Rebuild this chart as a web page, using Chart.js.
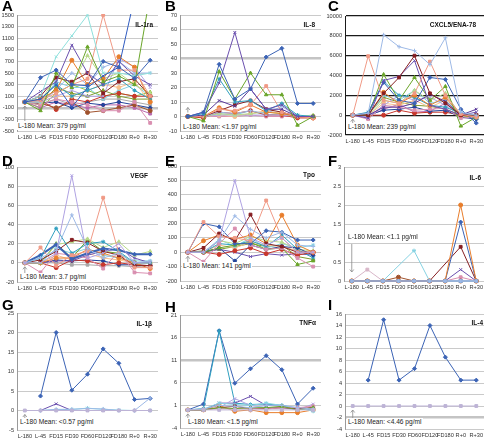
<!DOCTYPE html>
<html><head><meta charset="utf-8">
<script src="https://cdn.jsdelivr.net/npm/chart.js@4.4.1/dist/chart.umd.min.js"></script>
<style>
html,body{margin:0;padding:0;background:#fff;}
#wrap{position:relative;width:489px;height:440px;overflow:hidden;font-family:"Liberation Sans",Arial,sans-serif;}
canvas{position:absolute;}
.lt{position:absolute;font-weight:bold;font-size:15px;line-height:15px;color:#000;}
.ttl{position:absolute;font-weight:bold;font-size:6.5px;line-height:8px;color:#111;white-space:nowrap;}
.mean{position:absolute;font-size:6.6px;line-height:8px;background:#fff;color:#222;white-space:nowrap;padding:0 1px;}
</style></head><body><div id="wrap"></div>
<script>
// ---------- categories ----------
const categories = ["L-180","L-45","FD15","FD30","FD60","FD120","FD180","R+0","R+30"];

// ---------- A: IL-1ra ----------
const il1raSeries = [
  [0, 420, 550, 300, 280, 700, 600, 410, 720],
  [0, 50, 300, -90, 250, 450, 600, 1800, null],
  [0, -150, 500, 250, 950, 350, 450, 300, 1850],
  [0, 100, 780, 1140, 1500, 500, 500, 450, 500],
  [0, 30, 150, 300, 400, 1500, 550, 550, 100],
  [0, 50, 200, 720, 300, 400, 780, 600, 0],
  [0, 180, 350, 980, 500, 300, 700, 450, 300],
  [0, 100, 420, 350, 500, 150, 350, 400, 100],
  [0, 50, 300, 100, 200, 300, 400, 200, 50],
  [0, 0, 200, 500, 300, 600, 700, 500, 500],
  [0, 0, 450, 300, 800, 400, 500, 300, 150],
  [0, 0, 100, 200, 100, 100, 750, 600, 250],
  [0, 0, 100, 100, 200, 300, 250, 350, 0],
  [0, -50, 50, 0, -50, -150, -150, 0, -360],
  [0, -20, -100, 0, -180, -150, -100, -50, -150],
  [0, -20, 0, -100, -20, -50, 0, -50, -100],
  [0, 30, -130, 50, 0, 100, 150, 100, 100],
  [0, -50, 250, 150, 100, 200, 100, 50, 50],
  [0, 0, 350, 250, 250, 50, 200, 300, 100],
  [0, -100, 0, -50, -100, -50, -50, -100, -200],
  [0, -30, 50, -50, 0, 50, 50, 0, -50],
  [0, -100, 150, 300, 200, 100, 150, 100, 170]
];
const il1raColors = ["blue","blue2","green","cyan","salmon","orange","purple","maroon","teal","lightblue","lightgreen","lavender","peach","pink","brown","darkblue","red","olive","lightcyan","magenta","gray","green2"];

// ---------- B: IL-8 ----------
const il8Series = [
  [0, 3, 36, 12, 19, 41, 47, 9, 9],
  [0, 3, 23, 58, 19, 5, 8, 0, 0],
  [0, -3, 31, 12, 30, 15, 15, -6, 0],
  [0, 2, 26, 10, 11, 4, 9, 1, 0],
  [0, 1, 11, 7, 19, 5, 5, 0, 0],
  [0, 0, 5, 4, 8, 21, 3, 0, -1],
  [0, 0, 4, 8, 11, 5, 3, 0, 0],
  [0, 0, 6, 3, 8, 3, 2, 0, -1],
  [0, 0, 3, 2, 4, 2, 7, 0, 0],
  [0, 0, 2, 1, 2, 3, 2, 0, 1],
  [0, 0, 1, 1, 1, 1, 1, 0, 0],
  [0, -1, 3, 2, 4, 1, 1, -1, -1],
  [0, 0, 2, 1, 4, 1, 2, 0, 0],
  [0, 0, 1, 0, 2, 4, 2, 0, 0],
  [0, 0, 0, 0, 1, 0, 0, 0, -1]
];
const il8Colors = ["blue","purple","green","teal","darkpurple","salmon","maroon","orange","lightblue","lightgreen","lavender","red","lightcyan","peach","pink"];

// ---------- C: CXCL5/ENA-78 ----------
const cxcl5Series = [
  [0, 200, 8100, 6900, 6500, 5100, 7800, 300, 0],
  [0, 5950, 1500, 1200, 2200, 5400, 2000, 100, -200],
  [0, 0, 2200, 3800, 6000, 2200, 1200, 0, 0],
  [0, -300, 3500, 3900, 5500, 1000, 600, 0, 300],
  [0, 200, 3300, 1500, 1200, 3800, 3600, 600, -800],
  [0, 0, 4100, 1500, 3800, 1500, 2900, -1100, -200],
  [0, 0, 800, 800, 1200, 2100, 1400, 0, 600],
  [0, 0, 2300, 1200, 2000, 1000, 1800, 0, -200],
  [0, 300, 3400, 2000, 1800, 1000, 800, 200, -300],
  [0, 0, 1500, 1200, 2500, 1500, 2200, 0, 0],
  [0, -200, 1000, 2000, 1500, 1800, 1000, 0, 0],
  [0, 0, 2000, 1500, 2500, 1200, 1500, 100, 0],
  [0, -400, 1000, 800, 500, 600, 700, -300, -200],
  [0, 0, 1200, 1000, 1500, 800, 1500, 0, 0],
  [0, 0, 500, 600, 800, 400, 500, -200, -400],
  [0, 0, 0, 500, 200, 300, 300, 0, 0],
  [0, -100, 600, 1100, 300, 400, 1200, 0, 0],
  [0, 100, 1800, 1300, 1000, 900, 600, 0, -300]
];
const cxcl5Colors = ["lightblue","salmon","maroon","purple","blue","green","darkpurple","orange","teal","lightgreen","lavender","lightcyan","pink","peach","darkblue","red","magenta","olive"];

// ---------- D: VEGF ----------
const vegfSeries = [
  [0, 0, 10, 91, 5, 10, 20, 0, 0],
  [0, 5, 13, 50, 15, 5, 10, 0, 2],
  [0, 16, -3, 8, 12, 68, 10, -5, -5],
  [0, 5, 36, 10, 20, 22, 12, 0, 0],
  [0, 8, 19, 4, 10, 15, 13, 9, 9],
  [0, 3, 12, 24, 21, 12, 8, -3, -3],
  [0, 0, 19, 22, 25, 16, 22, 8, 12],
  [0, -10, 10, 8, 5, -6, 12, -10, -11],
  [0, 0, 20, 5, 24, 12, 10, 0, 0],
  [0, 0, 5, 5, 14, 10, 5, 0, -6],
  [0, 0, 2, 2, 8, 12, 15, 5, 0],
  [0, 0, -5, 3, 2, -2, 0, -2, -3],
  [0, 0, 3, 2, 3, 2, -2, -2, -3],
  [0, 0, 15, 10, 15, 8, 5, 2, 2],
  [0, 0, 8, 3, 10, 5, 3, 0, 0],
  [0, 0, 0, -2, -2, -3, -3, -4, -5]
];
const vegfColors = ["lavender","lightblue","salmon","teal","blue","maroon","lightgreen","pink","green","orange","purple","red","darkblue","lightcyan","peach","gray"];

// ---------- E: Tpo ----------
const tpoSeries = [
  [0, 0, 80, 500, 100, 50, 100, 0, 0],
  [0, 0, 80, 253, 160, 100, 140, 50, 40],
  [0, 210, 110, 100, 80, 360, 100, 0, 0],
  [0, 30, 130, 80, 262, 60, 40, 0, 0],
  [0, 200, 177, 60, 60, 150, 140, 85, 85],
  [0, 80, 120, 90, 120, 60, 258, 50, 0],
  [0, -66, 60, 165, 50, 20, 30, -40, -100],
  [0, 0, 30, 50, 70, 20, 30, -85, -60],
  [0, 0, -15, 10, 30, -10, 20, -20, 0],
  [0, 0, 30, -60, 50, 20, 40, 30, -20],
  [0, 0, 80, 60, 110, 80, 70, 20, 10],
  [0, 0, 60, 50, 80, 40, 120, 20, -40],
  [0, 0, 20, 0, -30, -10, -20, -10, -20],
  [0, 0, 90, 40, 100, 30, 60, 30, 50],
  [0, 0, 50, 30, 70, 50, 40, 10, 0],
  [0, 10, 20, 40, 60, 40, 50, -30, -50]
];
const tpoColors = ["lavender","lightblue","salmon","maroon","blue","orange","pink","green","red","darkblue","lightgreen","teal","purple","lightcyan","peach","olive"];

// ---------- F: IL-6 ----------
const il6Series = [
  [0, 0, 0, 0, 0, 0, 0, 0, 0],
  [0, 0, 0, 0, 0, 0, 0, 0, 0],
  [0, 0, 0, 0, 0, 0, 0, 2.0, 0],
  [0, 0, 0, 0, 0, 0, 0, 1.55, 0],
  [0, 0, 0, 0, 0, 0, null, 0.9, 0],
  [0, 0, 0, null, 0.8, 0, 0, 0, 0],
  [0, 0.3, 0, 0, 0, 0, 0, 0, 0],
  [0, 0, 0, 0.1, 0, 0, 0, 0, 0],
  [0, 0, 0, 0, 0, 0, 0, 0.3, 0],
  [0, 0, 0, 0, 0, 0, 0, 0.1, 0],
  [0, 0, 0, 0, 0, 0, 0, 0, 0]
];
const il6Colors = ["lightblue","steel","orange","blue","maroon","lightcyan","mauve","brown","purple","pink","mauve"];

// ---------- G: IL-1β ----------
const il1bSeries = [
  [0, 0, 0, 0, 0, 0, 0, 0, 0],
  [null, 0, 0.3, 0.3, 0.5, 0.4, 0, 0, 3.2],
  [null, 0, 0.2, 0.3, 0.6, 0.3, 0.1, 0, 0],
  [null, 0, 1.7, 0, 0, 0, 0, 0, 0],
  [null, 3.7, 20, 5.2, 9.3, 15.8, 12.1, 2.8, 3.1]
];
const il1bColors = ["graylav","lightblue","lightcyan","purple","blue"];

// ---------- H: TNFα ----------
const tnfSeries = [
  [0, 0, 0, 0, 0, 0, 0, 0, 0],
  [0, 0.2, 1, 0.8, 0.5, 1, 1, 0.5, 0.2],
  [0, 0, 0.5, 0.3, 0.5, 0.5, 0.8, 0, 0.5],
  [0, 0, 0.3, 0.2, 0.3, 0.2, 0.5, 0.5, 0.8],
  [0, 0, 0.5, 0.8, 0.3, 0.3, 0.5, 0.3, 0.5],
  [0, 0.2, 1.5, 1.2, 1, 1.5, 1, 0.5, -0.3],
  [0, 0, 1, -0.3, 0, -0.6, -0.6, -0.6, 0],
  [0, 0, 0.5, 2.5, 1, 0.5, 0.5, 0, 1.3],
  [0, 0, 1.5, 1.5, 3, 1, 1, 0, 0.5],
  [0, 0.3, 17.5, 1.5, 1.2, 1.3, 1, 0.3, 0],
  [0, 1.3, 17.5, 5.9, 9.1, 12, 8.9, 1.3, 4.8]
];
const tnfColors = ["graylav","lightblue","green","pink","maroon","lightcyan","orange","lavender","purple","teal","blue"];

// ---------- I: IL-4 ----------
const il4Series = [
  [0, 0, 0, 0, 0, 0, 0, 0, 0],
  [null, 4.5, 15, 4.5, 6.5, 14, 8.5, 4.5, 4.5]
];
const il4Colors = ["graylav","blue"];

// ---------- styles ----------
const palette = {
  blue:"#3B63B5", blue2:"#2F5BC0", green:"#6AA52A", cyan:"#8EE0DC", salmon:"#F09A86", orange:"#E87E2C",
  purple:"#6A4FAE", maroon:"#861E22", teal:"#2E9FBF", lightblue:"#9DB9E6", lightgreen:"#B9D98A",
  lavender:"#AFA2E2", peach:"#F7C08C", pink:"#D98FB0", brown:"#A0522D", darkblue:"#24449A",
  red:"#C8372C", olive:"#7E9A2E", lightcyan:"#86D2E2", magenta:"#B96BB0", gray:"#A8A8A8", green2:"#8CC63F",
  darkpurple:"#5A3A9A", steel:"#7FA3D8", mauve:"#D8B6C8", graylav:"#BDB3D6"
};
const markers = {
  blue:"rectRot", blue2:"crossRot", green:"triangle", cyan:"crossRot", salmon:"rect", orange:"circle",
  purple:"crossRot", maroon:"rect", teal:"star", lightblue:"cross", lightgreen:"triangle", lavender:"crossRot",
  lightcyan:"star", peach:"circle", pink:"rect", brown:"circle", darkblue:"rectRot", red:"circle",
  olive:"triangle", magenta:"rect", gray:"rect", green2:"triangle", darkpurple:"crossRot", steel:"rect",
  mauve:"rect", graylav:"rect"
};
const FONT = "'Liberation Sans', Arial, sans-serif";

const panels = [
  {id:"A", title:"IL-1ra", mean:"L-180 Mean: 379 pg/ml", series:il1raSeries, colors:il1raColors,
   x:0, y:0, w:163, h:145, plot:{l:17,t:15,r:160,b:131}, min:-500, max:1500, step:200, heavy:-100,
   titleR:153, titleY:25, meanX:17, meanY:126, arrowFrom:121, dir:"up", letterY:-2},
  {id:"B", title:"IL-8", mean:"L-180 Mean: <1.97 pg/ml", series:il8Series, colors:il8Colors,
   x:163, y:0, w:163, h:145, plot:{l:17,t:15,r:160,b:131}, min:-10, max:70, step:10, heavy:40,
   titleR:152, titleY:25, meanX:19, meanY:127, arrowFrom:111, dir:"upAbove", letterY:-2},
  {id:"C", title:"CXCL5/ENA-78", mean:"L-180 Mean: 239 pg/ml", series:cxcl5Series, colors:cxcl5Colors,
   x:326, y:0, w:163, h:145, plot:{l:19,t:16,r:160,b:135}, min:-2000, max:10000, step:2000, dark:true,
   titleR:150, titleY:25, meanX:21, meanY:127, arrowFrom:123, dir:"up", letterY:-2},
  {id:"D", title:"VEGF", mean:"L-180 Mean: 3.7 pg/ml", series:vegfSeries, colors:vegfColors, thick:"blue",
   x:0, y:145, w:163, h:150, plot:{l:17,t:22,r:160,b:137}, min:-20, max:100, step:20,
   titleR:148, titleY:31, meanX:19, meanY:132, arrowFrom:128, dir:"up", letterY:8},
  {id:"E", title:"Tpo", mean:"L-180 Mean: 141 pg/ml", series:tpoSeries, colors:tpoColors,
   x:163, y:145, w:163, h:150, plot:{l:17,t:21,r:160,b:136}, min:-200, max:600, step:100,
   titleR:152, titleY:30, meanX:19, meanY:121, arrowFrom:117, dir:"up", letterY:8},
  {id:"F", title:"IL-6", mean:"L-180 Mean: <1.1 pg/ml", series:il6Series, colors:il6Colors, clipOff:true,
   x:326, y:145, w:163, h:150, plot:{l:18,t:22,r:160,b:136}, min:0, max:3, step:0.5,
   titleR:155, titleY:33, meanX:21, meanY:92, arrowFrom:99, dir:"down", letterY:8},
  {id:"G", title:"IL-1β", mean:"L-180 Mean: <0.57 pg/ml", series:il1bSeries, colors:il1bColors,
   x:0, y:295, w:163, h:145, plot:{l:17,t:18,r:160,b:135}, min:-5, max:25, step:5,
   titleR:152, titleY:29, meanX:19, meanY:127, arrowFrom:123, dir:"up", letterY:2},
  {id:"H", title:"TNFα", mean:"L-180 Mean: <1.5 pg/ml", series:tnfSeries, colors:tnfColors,
   x:163, y:295, w:163, h:145, plot:{l:17,t:20,r:160,b:133}, min:-4, max:21, step:5, heavy:11,
   titleR:153, titleY:28, meanX:24, meanY:127, arrowFrom:123, dir:"up", letterY:4},
  {id:"I", title:"IL-4", mean:"L-180 Mean: <4.46 pg/ml", series:il4Series, colors:il4Colors,
   x:326, y:295, w:163, h:145, plot:{l:19,t:19,r:160,b:134}, min:-4, max:16, step:2, heavy:-2,
   titleR:157, titleY:28, meanX:21, meanY:127, arrowFrom:123, dir:"up", letterY:2}
];

const arrowPlugin = {
  id: "meanArrow",
  afterDatasetsDraw(chart, args, opts) {
    const xs = chart.scales.x, ys = chart.scales.y, c = chart.ctx;
    const x = xs.getPixelForValue(0);
    const yPt = ys.getPixelForValue(0);
    let y0 = opts.from, y1;
    if (opts.dir === "down") y1 = yPt - 9;
    else if (opts.dir === "upAbove") { y0 = yPt - 4; y1 = yPt - 9; }
    else y1 = yPt + 4;
    const up = y1 < y0;
    c.save();
    c.strokeStyle = "#8a8a8a"; c.lineWidth = 0.8;
    c.beginPath(); c.moveTo(x, y0); c.lineTo(x, y1); c.stroke();
    const s = up ? 1 : -1;
    c.beginPath(); c.moveTo(x - 2, y1 + 2.5 * s); c.lineTo(x, y1); c.lineTo(x + 2, y1 + 2.5 * s); c.stroke();
    c.restore();
  }
};

const wrap = document.getElementById("wrap");
panels.forEach(p => {
  const cv = document.createElement("canvas");
  cv.width = p.w; cv.height = p.h;
  cv.style.left = p.x + "px"; cv.style.top = p.y + "px";
  wrap.appendChild(cv);

  const datasets = p.series.map((vals, i) => {
    const key = p.colors[i], col = palette[key];
    return {
      data: vals, borderColor: col, backgroundColor: col,
      pointBackgroundColor: col, pointBorderColor: col,
      borderWidth: (p.thick === key) ? 2 : 1, pointRadius: 2, pointBorderWidth: 1,
      pointStyle: markers[key], spanGaps: true, tension: 0,
      clip: p.clipOff ? false : 1
    };
  });

  const gridCol = p.dark ? "#1a1a1a" : "#bcbcbc";
  new Chart(cv, {
    type: "line",
    data: { labels: categories, datasets },
    options: {
      responsive: false, animation: false, devicePixelRatio: 1, events: [],
      layout: { padding: { top: p.plot.t, right: p.w - p.plot.r, bottom: 0, left: 0 } },
      plugins: { legend: { display: false }, tooltip: { enabled: false },
        meanArrow: { from: p.arrowFrom, dir: p.dir } },
      scales: {
        x: {
          offset: true,
          grid: { display: false, drawTicks: false },
          border: { display: false },
          ticks: { font: { size: 5.6, family: FONT }, color: "#333", maxRotation: 0, minRotation: 0, autoSkip: false, padding: 3 },
          afterFit: s => { s.height = p.h - p.plot.b; }
        },
        y: {
          min: p.min, max: p.max,
          ticks: { stepSize: p.step, font: { size: 5.6, family: FONT }, color: "#333", padding: 3,
            callback: v => String(Math.round(v * 100) / 100) },
          grid: {
            drawTicks: false,
            color: ctx => (p.heavy !== undefined && ctx.tick && ctx.tick.value === p.heavy) ? "#c4c4c4" : gridCol,
            lineWidth: ctx => (p.heavy !== undefined && ctx.tick && ctx.tick.value === p.heavy) ? 2.5 : (p.dark ? 1.2 : 0.8)
          },
          border: { display: true, color: p.dark ? "#1a1a1a" : "#9a9a9a", width: 1 },
          afterFit: s => { s.width = p.plot.l; }
        }
      }
    },
    plugins: [arrowPlugin]
  });

  const lt = document.createElement("div");
  lt.className = "lt"; lt.textContent = p.id;
  lt.style.left = (p.x + 2) + "px"; lt.style.top = (p.y + p.letterY) + "px";
  wrap.appendChild(lt);

  const tt = document.createElement("div");
  tt.className = "ttl"; tt.textContent = p.title;
  tt.style.right = (489 - (p.x + p.titleR)) + "px"; tt.style.top = (p.y + p.titleY - 4) + "px";
  wrap.appendChild(tt);

  const mn = document.createElement("div");
  mn.className = "mean"; mn.textContent = p.mean;
  mn.style.left = (p.x + p.meanX) + "px"; mn.style.top = (p.y + p.meanY - 4) + "px";
  wrap.appendChild(mn);
});
</script>
</body></html>
